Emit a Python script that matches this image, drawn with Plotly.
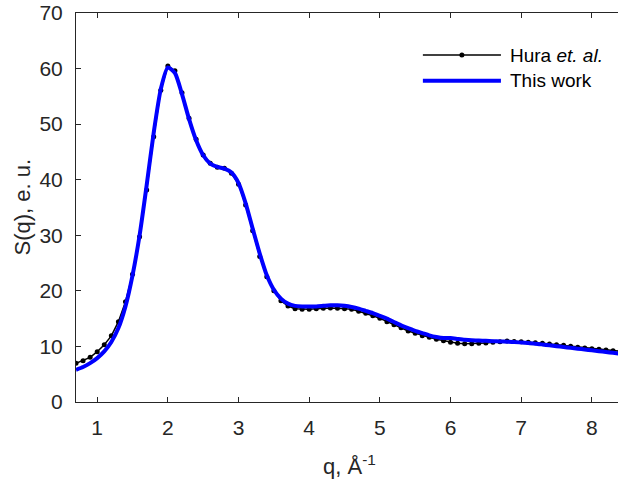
import plotly.graph_objects as go

# Momentum transfer grid, Å^-1
q = [0.7, 0.8, 0.9, 1.0, 1.1, 1.2, 1.3, 1.4, 1.5, 1.6, 1.7, 1.8, 1.9, 2.0,
     2.1, 2.2, 2.3, 2.4, 2.5, 2.6, 2.7, 2.8, 2.9, 3.0, 3.1, 3.2, 3.3, 3.4,
     3.5, 3.6, 3.7, 3.8, 3.9, 4.0, 4.1, 4.2, 4.3, 4.4, 4.5, 4.6, 4.7, 4.8,
     4.9, 5.0, 5.1, 5.2, 5.3, 5.4, 5.5, 5.6, 5.7, 5.8, 5.9, 6.0, 6.1, 6.2,
     6.3, 6.4, 6.5, 6.6, 6.7, 6.8, 6.9, 7.0, 7.1, 7.2, 7.3, 7.4, 7.5, 7.6,
     7.7, 7.8, 7.9, 8.0, 8.1, 8.2, 8.3, 8.4]

# Experimental structure factor (Hura et al.)
s_hura = [6.96, 7.43, 8.04, 9.05, 10.3, 11.9, 14.45, 18.05, 22.97, 29.75,
          38.15, 47.75, 56.1, 60.46, 59.6, 55.66, 51.05, 47.27, 44.45, 42.95,
          42.23, 42.05, 41.15, 39.2, 35.45, 30.8, 26.2, 22.55, 20.03, 18.23,
          17.27, 16.79, 16.68, 16.68, 16.79, 16.86, 16.92, 16.86, 16.79, 16.68,
          16.32, 15.96, 15.53, 15.06, 14.45, 13.91, 13.37, 12.78, 12.36, 11.93,
          11.64, 11.28, 11.03, 10.74, 10.56, 10.49, 10.49, 10.56, 10.62, 10.74,
          10.86, 10.98, 10.9, 10.86, 10.74, 10.68, 10.56, 10.44, 10.32, 10.2,
          10.02, 9.84, 9.72, 9.6, 9.48, 9.36, 9.24, 9.12]

# Computed structure factor (this work)
s_this = [5.8, 6.3, 7.0, 7.9, 9.1, 10.8, 13.3, 17.2, 22.8, 30.0,
          39.0, 48.5, 56.3, 60.2, 59.2, 55.4, 50.9, 47.1, 44.4, 42.9,
          42.3, 42.0, 41.3, 39.4, 35.8, 31.2, 26.7, 22.8, 20.2, 18.6,
          17.7, 17.3, 17.2, 17.2, 17.2, 17.3, 17.4, 17.4, 17.3, 17.1,
          16.8, 16.4, 16.0, 15.5, 15.0, 14.4, 13.8, 13.3, 12.8, 12.4,
          12.0, 11.7, 11.5, 11.5, 11.35, 11.2, 11.1, 11.05, 11.0, 10.95,
          10.9, 10.85, 10.8, 10.7, 10.6, 10.5, 10.35, 10.2, 10.05, 9.9,
          9.75, 9.6, 9.45, 9.3, 9.15, 9.0, 8.85, 8.7]

x_ticks = [1, 2, 3, 4, 5, 6, 7, 8]
y_ticks = [0, 10, 20, 30, 40, 50, 60, 70]

AX = "#262626"
FONT = "Liberation Sans, Arial, sans-serif"

fig = go.Figure()
fig.add_trace(go.Scatter(
    x=q, y=s_hura, mode="lines+markers", name="Hura et. al.",
    line=dict(color="black", width=1.5),
    marker=dict(color="black", size=5),
    showlegend=False,
))
fig.add_trace(go.Scatter(
    x=q, y=s_this, mode="lines", name="This work",
    line=dict(color="#0000FF", width=4, shape="spline", smoothing=0.6),
    showlegend=False,
))

fig.update_layout(
    width=618, height=480,
    margin=dict(l=76, r=0, t=13, b=78),
    paper_bgcolor="white", plot_bgcolor="white",
    font=dict(family=FONT, color=AX, size=21),
)
fig.update_xaxes(
    range=[0.7, 8.37], tickvals=x_ticks, ticks="inside", ticklen=5,
    tickwidth=1, tickcolor=AX, showline=True, linecolor=AX, linewidth=1,
    mirror="ticks", showgrid=False, zeroline=False,
    tickfont=dict(size=21, color=AX), ticklabelstandoff=7,
)
fig.update_yaxes(
    range=[0, 70], tickvals=y_ticks, ticks="inside", ticklen=5,
    tickwidth=1, tickcolor=AX, showline=True, linecolor=AX, linewidth=1,
    mirror=False, showgrid=False, zeroline=False,
    tickfont=dict(size=21, color=AX), ticklabelstandoff=8,
)

# Axis titles
fig.add_annotation(text="q, Å<sup>-1</sup>", xref="paper", yref="paper",
                   x=0.5037, y=-0.162, xanchor="center", yanchor="middle",
                   showarrow=False, font=dict(size=22, color=AX, family=FONT))
fig.add_annotation(text="S(q), e. u.", xref="paper", yref="paper",
                   x=-0.0996, y=0.5, xanchor="center", yanchor="middle",
                   textangle=-90, showarrow=False,
                   font=dict(size=22, color=AX, family=FONT))

# Legend (box-less)
leg_x0, leg_x1, leg_mid = 0.640, 0.784, 0.712
row1, row2 = 0.892, 0.826
fig.add_shape(type="line", xref="paper", yref="paper",
              x0=leg_x0, x1=leg_x1, y0=row1, y1=row1,
              line=dict(color="black", width=1.5))
fig.add_shape(type="circle", xref="paper", yref="paper",
              xsizemode="pixel", ysizemode="pixel",
              xanchor=leg_mid, yanchor=row1,
              x0=-2.5, x1=2.5, y0=-2.5, y1=2.5,
              fillcolor="black", line=dict(color="black", width=0))
fig.add_shape(type="line", xref="paper", yref="paper",
              x0=leg_x0, x1=leg_x1, y0=row2, y1=row2,
              line=dict(color="#0000FF", width=4))
fig.add_annotation(text="Hura <i>et. al.</i>", xref="paper", yref="paper",
                   x=0.797, y=row1, xanchor="left", yanchor="middle",
                   showarrow=False, font=dict(size=19, color="black", family=FONT))
fig.add_annotation(text="This work", xref="paper", yref="paper",
                   x=0.797, y=row2, xanchor="left", yanchor="middle",
                   showarrow=False, font=dict(size=19, color="black", family=FONT))

fig.write_html("out.html")
